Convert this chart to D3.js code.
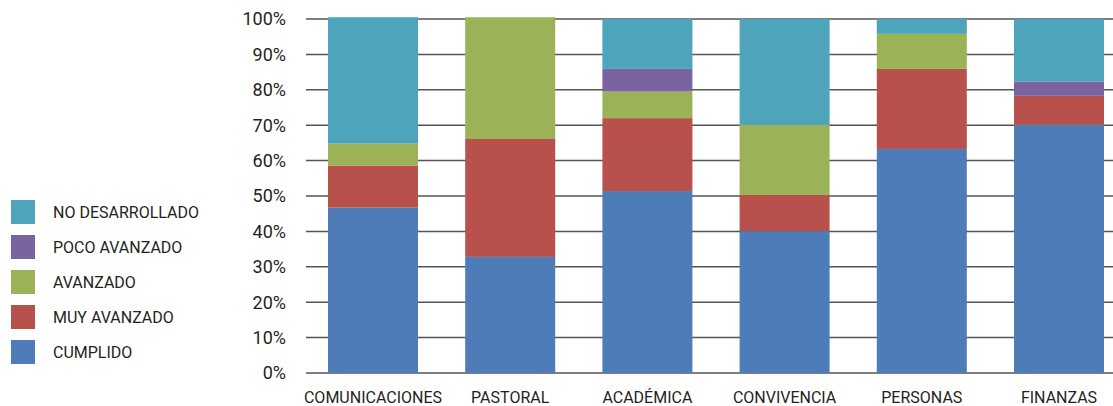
<!DOCTYPE html>
<html>
<head>
<meta charset="utf-8">
<script src="https://cdn.jsdelivr.net/npm/d3@7"></script>
<style>
  html, body { margin: 0; padding: 0; background: #fff; }
  svg { display: block; }
  text { font-family: Roboto, "Open Sans", sans-serif; fill: #231f20; }
</style>
</head>
<body>
<svg id="chart" width="1113" height="406"></svg>
<script>
const categories = ["COMUNICACIONES", "PASTORAL", "ACADÉMICA", "CONVIVENCIA", "PERSONAS", "FINANZAS"];
const seriesNames = ["CUMPLIDO", "MUY AVANZADO", "AVANZADO", "POCO AVANZADO", "NO DESARROLLADO"];
const cumplido       = [46.7, 32.8, 51.4, 40.1, 63.3, 70.1];
const muyAvanzado    = [11.9, 33.3, 20.6, 10.2, 22.6,  8.2];
const avanzado       = [ 6.2, 34.4,  7.5, 19.8,  9.9,  0.0];
const pocoAvanzado   = [ 0.0,  0.0,  6.4,  0.0,  0.0,  4.0];
const noDesarrollado = [35.7,  0.0, 14.1, 29.9,  4.2, 17.7];
const yTicks = [0, 10, 20, 30, 40, 50, 60, 70, 80, 90, 100];
const colors = ["#4e7cb8", "#b8504c", "#9bb356", "#7a64a0", "#4da4bb"];

const seriesValues = [cumplido, muyAvanzado, avanzado, pocoAvanzado, noDesarrollado];
const rows = categories.map((c, i) => {
  const r = { cat: c };
  seriesNames.forEach((s, j) => r[s] = seriesValues[j][i]);
  return r;
});

const svg = d3.select("#chart");
const x = d3.scaleBand().domain(categories).range([304.4, 1127.6]).paddingInner(0.344).paddingOuter(0.172);
const y = d3.scaleLinear().domain([0, 100]).range([373, 19]);
const color = d3.scaleOrdinal().domain(seriesNames).range(colors);

// gridlines
svg.append("g").selectAll("line").data(yTicks).join("line")
  .attr("x1", 306).attr("x2", 1113)
  .attr("y1", d => y(d)).attr("y2", d => y(d))
  .attr("stroke", "#555").attr("stroke-width", 1.5);

// y labels
svg.append("g").selectAll("text").data(yTicks).join("text")
  .attr("x", 286).attr("y", d => y(d)).attr("dy", "0.36em")
  .attr("text-anchor", "end").attr("font-size", 18)
  .text(d => d + "%");

// bars
const stacked = d3.stack().keys(seriesNames)(rows);
svg.append("g").selectAll("g").data(stacked).join("g")
  .attr("fill", d => color(d.key))
  .selectAll("rect").data(d => d).join("rect")
  .attr("x", d => x(d.data.cat))
  .attr("width", x.bandwidth())
  .attr("y", d => y(d[1]))
  .attr("height", d => y(d[0]) - y(d[1]));

// x labels
svg.append("g").selectAll("text").data(categories).join("text")
  .attr("x", d => x(d) + x.bandwidth() / 2).attr("y", 403)
  .attr("text-anchor", "middle").attr("font-size", 16)
  .text(d => d);

// legend
const legendOrder = seriesNames.slice().reverse();
const lg = svg.append("g").selectAll("g").data(legendOrder).join("g")
  .attr("transform", (d, i) => `translate(11, ${200 + i * 35})`);
lg.append("rect").attr("width", 24).attr("height", 24).attr("fill", d => color(d));
lg.append("text").attr("x", 42).attr("y", 12).attr("dy", "0.36em")
  .attr("font-size", 16).text(d => d);
</script>
</body>
</html>
